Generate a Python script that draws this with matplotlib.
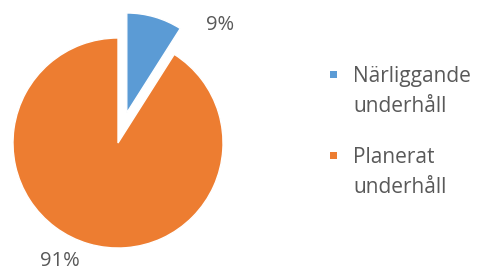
import matplotlib.pyplot as plt
from matplotlib.patches import Rectangle

categories = ['Närliggande\nunderhåll', 'Planerat\nunderhåll']
shares = [9, 91]
pct_labels = ['9%', '91%']
colors = ['#5B9BD5', '#ED7D31']

plt.rcParams['font.family'] = ['Open Sans', 'DejaVu Sans']
txt_color = '#595959'
W, H = 485, 271

fig = plt.figure(figsize=(4.85, 2.71), dpi=100)
ax = fig.add_axes([13/W, 23/H, 210/W, 210/H])

wedges, _ = ax.pie(shares, colors=colors, startangle=90, counterclock=False,
                   explode=[0.30, 0], radius=1,
                   wedgeprops=dict(edgecolor='white', linewidth=1.0))
wedges[0].set_radius(0.95)
for w in wedges:
    w.set_clip_on(False)
ax.set_xlim(-1, 1)
ax.set_ylim(-1, 1)
ax.set_aspect('equal')
ax.axis('off')

# data labels
ax.text(0.97, 1.12, pct_labels[0], ha='center', va='center', fontsize=14.5, color=txt_color)
ax.text(-0.55, -1.12, pct_labels[1], ha='center', va='center', fontsize=14.5, color=txt_color)

# legend, built by hand so the marker sits on the first line like in Excel
for i, (cat, c) in enumerate(zip(categories, colors)):
    base = 82 + i * 81  # first baseline, px from top
    fig.add_artist(Rectangle((330/W, (H - base + 4)/H), 7/W, 7/H,
                             transform=fig.transFigure, facecolor=c, edgecolor='none'))
    # baseline alignment uses the last line, which is one line step lower
    fig.text(353/W, (H - base - 30)/H, cat, ha='left', va='baseline', fontsize=15,
             color=txt_color, linespacing=1.58)

fig.savefig('out.png', dpi=100)
